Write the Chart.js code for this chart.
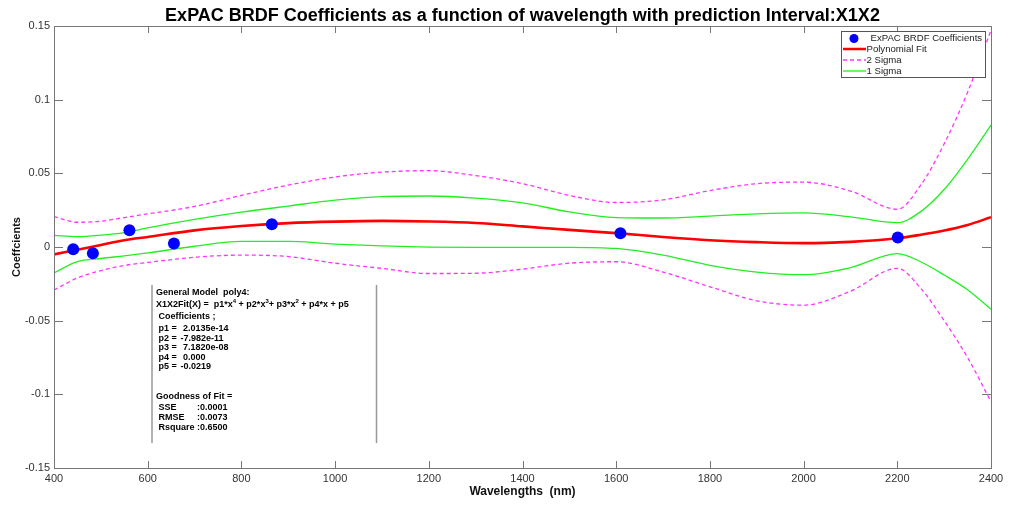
<!DOCTYPE html>
<html>
<head>
<meta charset="utf-8">
<script src="https://cdn.jsdelivr.net/npm/chart.js@4.4.0/dist/chart.umd.min.js"></script>
<style>
  html, body { margin: 0; padding: 0; background: #fff; }
  #wrap { width: 1017px; height: 505px; }
</style>
</head>
<body>
<div id="wrap"><canvas id="chart" width="1017" height="505"></canvas></div>
<script>
// wavelength grid for the fitted curves (nm)
const wavelengths = [400, 450, 500, 550, 600, 700, 800, 900, 1000, 1100, 1200, 1300, 1400,
    1500, 1600, 1700, 1800, 1900, 2000, 2100, 2200, 2250, 2300, 2350, 2400];
const fitValues = [-0.0050, -0.0018, 0.0014, 0.0046, 0.0068, 0.0113, 0.0142, 0.0162, 0.0172, 0.0177, 0.0173, 0.0163, 0.0140,
    0.0116, 0.0094, 0.0068, 0.0046, 0.0033, 0.0026, 0.0035, 0.0059, 0.0083, 0.0112, 0.0150, 0.0202];
const sigma1Upper = [0.0079, 0.0070, 0.0080, 0.0098, 0.0130, 0.0187, 0.0236, 0.0278, 0.0318, 0.0342, 0.0346, 0.0332, 0.0300,
    0.0238, 0.0200, 0.0197, 0.0210, 0.0225, 0.0232, 0.0205, 0.0165, 0.0240, 0.0390, 0.0595, 0.0828];
const sigma1Lower = [-0.0176, -0.0100, -0.0078, -0.0060, -0.0040, 0.0005, 0.0038, 0.0038, 0.0020, 0.0007, -0.0001, -0.0003, -0.0003,
    -0.0002, -0.0010, -0.0055, -0.0124, -0.0170, -0.0188, -0.0140, -0.0045, -0.0100, -0.0190, -0.0290, -0.0423];
const sigma2Upper = [0.0206, 0.0168, 0.0175, 0.0200, 0.0225, 0.0275, 0.0350, 0.0420, 0.0475, 0.0508, 0.0518, 0.0485, 0.0430,
    0.0350, 0.0302, 0.0320, 0.0383, 0.0430, 0.0440, 0.0380, 0.0256, 0.0420, 0.0700, 0.1050, 0.1470];
const sigma2Lower = [-0.0292, -0.0210, -0.0160, -0.0125, -0.0105, -0.0070, -0.0055, -0.0065, -0.0110, -0.0145, -0.0180, -0.0178, -0.0150,
    -0.0110, -0.0100, -0.0170, -0.0270, -0.0365, -0.0395, -0.0300, -0.0145, -0.0280, -0.0500, -0.0750, -0.1050];

// measured ExPAC BRDF coefficients
const sampleWavelengths = [441, 483, 561, 656, 865, 1609, 2201];
const sampleCoeffs = [-0.0016, -0.0043, 0.0113, 0.0023, 0.0154, 0.0093, 0.0064];

const modelLines = [
    ['General Model  poly4:'],
    ['FIT'],
    [' Coefficients ;'],
    [' p1 =', '2.0135e-14'],
    [' p2 =', '-7.982e-11'],
    [' p3 =', '7.1820e-08'],
    [' p4 =', '0.000'],
    [' p5 =', '-0.0219']
];
const fitLines = [
    ['Goodness of Fit ='],
    [' SSE', ':0.0001'],
    [' RMSE', ':0.0073'],
    [' Rsquare :0.6500']
];

const FONT = 'Arial, "Liberation Sans", sans-serif';
const toXY = (xs, ys) => xs.map((x, i) => ({ x: x, y: ys[i] }));

const curve = (label, values, color, width, dash) => ({
    label: label,
    data: toXY(wavelengths, values),
    borderColor: color,
    backgroundColor: color,
    borderWidth: width,
    borderDash: dash || [],
    pointRadius: 0,
    fill: false,
    cubicInterpolationMode: 'monotone'
});

// frame with inward ticks (matlab style), legend, and the fit text box
const decorations = {
    id: 'decorations',
    afterDatasetsDraw(chart) {
        const ctx = chart.ctx;
        const area = chart.chartArea;
        const xs = chart.scales.x, ys = chart.scales.y;
        ctx.save();
        ctx.strokeStyle = '#777';
        ctx.lineWidth = 1;
        ctx.strokeRect(area.left + 0.5, area.top + 0.5, area.right - area.left, area.bottom - area.top);
        ctx.beginPath();
        xs.ticks.forEach(t => {
            const px = Math.round(xs.getPixelForValue(t.value)) + 0.5;
            if (px <= area.left + 1 || px >= area.right - 1) return;
            ctx.moveTo(px, area.bottom); ctx.lineTo(px, area.bottom - 7);
            ctx.moveTo(px, area.top); ctx.lineTo(px, area.top + 7);
        });
        ys.ticks.forEach(t => {
            const py = Math.round(ys.getPixelForValue(t.value)) + 0.5;
            if (py <= area.top + 1 || py >= area.bottom - 1) return;
            ctx.moveTo(area.left, py); ctx.lineTo(area.left + 9, py);
            ctx.moveTo(area.right, py); ctx.lineTo(area.right - 9, py);
        });
        ctx.stroke();

        // legend
        const lx = 841, ly = 31;
        ctx.fillStyle = '#fff';
        ctx.fillRect(lx, ly, 144, 46);
        ctx.strokeStyle = '#555';
        ctx.strokeRect(lx + 0.5, ly + 0.5, 144, 46);
        ctx.font = '9.6px ' + FONT;
        ctx.textBaseline = 'middle';
        ctx.textAlign = 'left';
        ctx.fillStyle = '#0000ff';
        ctx.beginPath();
        ctx.arc(854, 38.5, 4.5, 0, Math.PI * 2);
        ctx.fill();
        const legendRows = [
            { text: 'Polynomial Fit', color: '#ff0000', width: 2.5, dash: [] },
            { text: '2 Sigma', color: '#ff33ff', width: 1.3, dash: [4, 3] },
            { text: '1 Sigma', color: '#22ee22', width: 1.3, dash: [] }
        ];
        ctx.fillStyle = '#222';
        ctx.fillText('ExPAC BRDF Coefficients', 870.5, 38.5);
        legendRows.forEach((r, i) => {
            const y = 49 + i * 11;
            ctx.strokeStyle = r.color;
            ctx.lineWidth = r.width;
            ctx.setLineDash(r.dash);
            ctx.beginPath();
            ctx.moveTo(843, y); ctx.lineTo(866, y);
            ctx.stroke();
            ctx.setLineDash([]);
            ctx.fillText(r.text, 866.5, y);
        });

        // text box with the model description
        ctx.strokeStyle = '#999';
        ctx.lineWidth = 1.5;
        ctx.beginPath();
        ctx.moveTo(152, 285); ctx.lineTo(152, 443);
        ctx.moveTo(376.5, 285); ctx.lineTo(376.5, 443);
        ctx.stroke();

        ctx.fillStyle = '#000';
        ctx.font = 'bold 9px ' + FONT;
        const lineY = [293, 305, 316.5, 329, 338.5, 348, 357.5, 367];
        modelLines.forEach((row, i) => {
            const y = lineY[i];
            if (row[0] === 'FIT') {
                // equation with superscripts
                const parts = [['X1X2Fit(X) =  p1*x', false], ['4', true], [' + p2*x', false], ['3', true],
                    ['+ p3*x', false], ['2', true], [' + p4*x + p5', false]];
                let x = 156;
                parts.forEach(p => {
                    ctx.font = (p[1] ? 'bold 6px ' : 'bold 9px ') + FONT;
                    ctx.fillText(p[0], x, p[1] ? y - 4 : y);
                    x += ctx.measureText(p[0]).width;
                });
                ctx.font = 'bold 9px ' + FONT;
                return;
            }
            ctx.fillText(row[0], 156, y);
            if (row[1]) {
                const neg = row[1].startsWith('-');
                ctx.fillText(row[1], neg ? 180.5 : 183, y);
            }
        });
        const fitY = [397, 407.5, 417.5, 427.5];
        fitLines.forEach((row, i) => {
            ctx.fillText(row[0], 156, fitY[i]);
            if (row[1]) ctx.fillText(row[1], 197, fitY[i]);
        });
        ctx.restore();
    }
};

const ctx = document.getElementById('chart').getContext('2d');
new Chart(ctx, {
    type: 'line',
    data: {
        datasets: [
            {
                label: 'ExPAC BRDF Coefficients',
                data: toXY(sampleWavelengths, sampleCoeffs),
                showLine: false,
                pointRadius: 6,
                pointBorderWidth: 0,
                pointBackgroundColor: '#0000ff',
                borderColor: '#0000ff'
            },
            curve('Polynomial Fit', fitValues, '#ff0000', 2.6),
            curve('1 Sigma', sigma1Upper, '#22ee22', 1.3),
            curve('1 Sigma lower', sigma1Lower, '#22ee22', 1.3),
            curve('2 Sigma', sigma2Upper, '#ff33ff', 1.3, [4, 3]),
            curve('2 Sigma lower', sigma2Lower, '#ff33ff', 1.3, [4, 3])
        ]
    },
    options: {
        responsive: false,
        animation: false,
        layout: { padding: { top: 0, right: 26, bottom: 0, left: 0 } },
        plugins: {
            legend: { display: false },
            tooltip: { enabled: false },
            title: {
                display: true,
                text: 'ExPAC BRDF Coefficients as a function of wavelength with prediction Interval:X1X2',
                fullSize: false,
                color: '#000',
                font: { family: FONT, size: 18, weight: 'bold', lineHeight: 1 },
                padding: { top: 7.5, bottom: 0.5 }
            }
        },
        scales: {
            x: {
                type: 'linear',
                min: 400,
                max: 2400,
                grid: { display: false, drawTicks: false },
                border: { display: false },
                ticks: {
                    stepSize: 200,
                    color: '#333',
                    padding: 4,
                    font: { family: FONT, size: 11 },
                    callback: v => String(v)
                },
                title: {
                    display: true,
                    text: 'Wavelengths  (nm)',
                    color: '#111',
                    font: { family: FONT, size: 12, weight: 'bold' },
                    padding: { top: 0, bottom: 6 }
                },
                afterFit(scale) { scale.height = 37; }
            },
            y: {
                min: -0.15,
                max: 0.15,
                grid: { display: false, drawTicks: false },
                border: { display: false },
                ticks: {
                    stepSize: 0.05,
                    color: '#333',
                    padding: 4,
                    font: { family: FONT, size: 11 },
                    callback: v => String(Number(v.toFixed(2)))
                },
                title: {
                    display: true,
                    text: 'Coeffcients',
                    color: '#111',
                    font: { family: FONT, size: 11, weight: 'bold' },
                    padding: { top: 10, bottom: 0 }
                },
                afterFit(scale) { scale.width = 54; }
            }
        }
    },
    plugins: [decorations]
});
</script>
</body>
</html>
